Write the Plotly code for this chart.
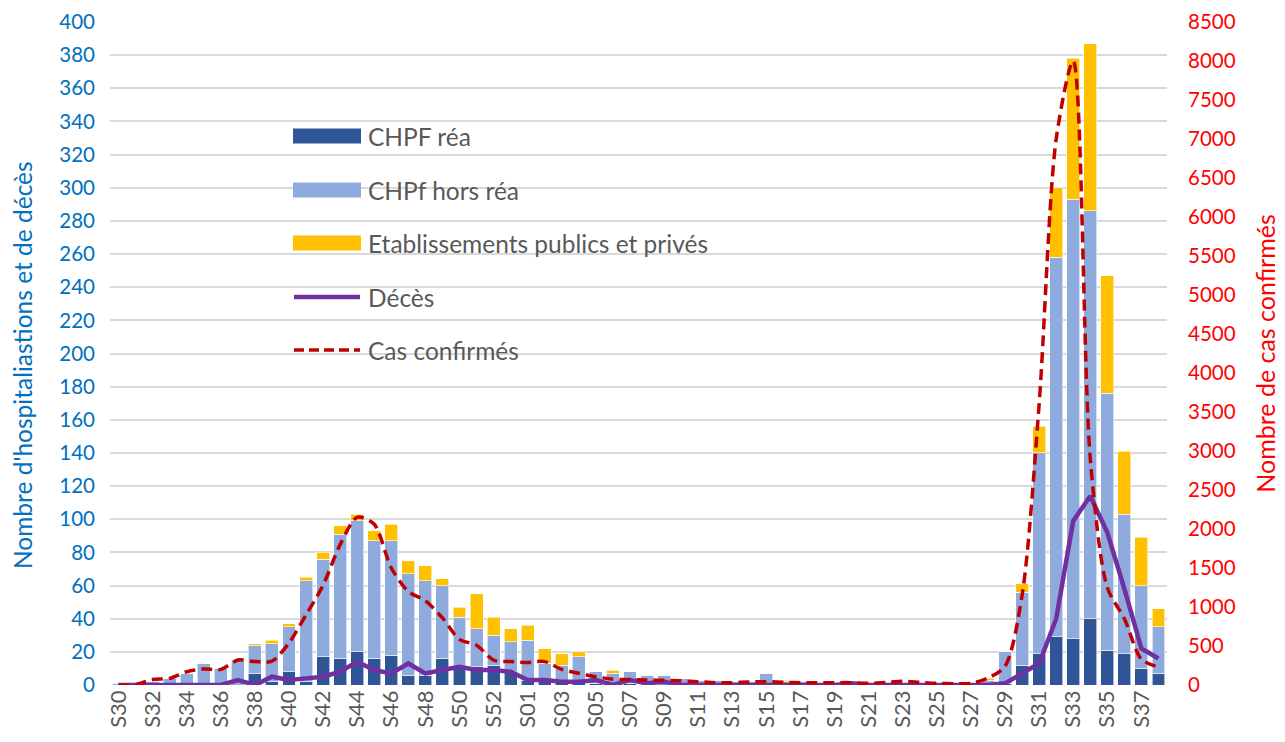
import plotly.graph_objects as go

# weeks S30-2020 .. S38-2021 (2020 has a week 53)
week_labels = [f"S{w}" for w in range(30, 54)] + [f"S{w:02d}" for w in range(1, 39)]
week_years = [2020] * 24 + [2021] * 38
weeks = [f"{y}-{s}" for y, s in zip(week_years, week_labels)]

chpf_rea = [
    0, 0, 0, 0, 0, 0, 0, 0, 7, 2, 8, 2, 17, 16, 20, 16, 18, 6, 6, 16, 10, 11, 12, 8,
    3, 2, 2, 2, 1, 1, 1, 0, 0, 0, 0, 0, 0, 0, 0, 0, 0, 0, 0, 0, 0, 0, 0, 0, 0, 0,
    0, 0, 1, 12, 19, 29, 28, 40, 21, 19, 10, 7,
]
chpf_hors_rea = [
    1, 1, 2, 4, 7, 13, 10, 15, 17, 23, 27, 61, 59, 75, 79, 71, 69, 61, 57, 44, 31, 23, 18, 18,
    24, 11, 10, 15, 7, 6, 7, 6, 6, 4, 3, 3, 2, 2, 7, 2, 2, 1, 1, 1, 1, 1, 1, 1, 1, 1,
    1, 3, 19, 44, 121, 229, 265, 246, 155, 84, 50, 28,
]
etab_pub_priv = [
    0, 0, 0, 0, 0, 0, 0, 0, 1, 2, 2, 2, 4, 5, 4, 6, 10, 8, 9, 4, 6, 21, 11, 8,
    9, 9, 7, 3, 0, 2, 0, 0, 0, 0, 0, 0, 0, 0, 0, 1, 0, 0, 0, 0, 0, 0, 0, 0, 0, 0,
    0, 1, 0, 5, 16, 42, 85, 101, 71, 38, 29, 11,
]
deces = [
    0, 0, 0, 0, 0, 0, 0, 3, 0, 5, 3, 4, 5, 8, 14, 9, 7, 13, 7, 9, 11, 9, 9, 8,
    3, 3, 2, 2, 3, 0, 3, 1, 2, 0, 0, 0, 0, 0, 0, 0, 0, 0, 0, 1, 0, 0, 0, 0, 0, 0,
    0, 0, 1, 7, 13, 40, 99, 114, 92, 58, 22, 16,
]
cas_confirmes = [
    0, 5, 70, 85, 170, 205, 200, 320, 300, 305, 540, 900, 1280, 1800, 2150, 2060, 1500, 1200,
    1080, 860, 585, 510, 320, 300, 290, 300, 200, 150, 105, 75, 70, 65, 60, 55, 43, 30,
    30, 38, 43, 34, 30, 30, 30, 30, 21, 34, 47, 34, 21, 17, 20, 90, 240, 1150, 3600, 7000,
    8000, 2900, 1250, 850, 330, 230,
]

FONT = "Lato"
W, H = 1285, 742
L, R, T, B = 110, 118, 22, 57

fig = go.Figure()
bar_line = dict(color="white", width=0.6)
fig.add_trace(go.Bar(x=weeks, y=chpf_rea, name="CHPF réa",
                     marker=dict(color="#2F5597", line=bar_line)))
fig.add_trace(go.Bar(x=weeks, y=chpf_hors_rea, name="CHPf hors réa",
                     marker=dict(color="#8FAADC", line=bar_line)))
fig.add_trace(go.Bar(x=weeks, y=etab_pub_priv, name="Etablissements publics et privés",
                     marker=dict(color="#FFC000", line=bar_line)))
fig.add_trace(go.Scatter(x=weeks, y=deces, name="Décès", mode="lines",
                         line=dict(color="#7030A0", width=4.5)))
fig.add_trace(go.Scatter(x=weeks, y=cas_confirmes, name="Cas confirmés", mode="lines",
                         yaxis="y2",
                         line=dict(color="#C00000", width=3.5, dash="11px,6px",
                                   shape="spline", smoothing=0.8)))

fig.update_layout(
    width=W,
    height=H,
    margin=dict(l=L, r=R, t=T, b=B, autoexpand=False),
    paper_bgcolor="white",
    plot_bgcolor="white",
    barmode="stack",
    bargap=0.24,
    showlegend=False,
    font=dict(family=FONT, size=20, color="#595959"),
    xaxis=dict(
        type="category",
        categoryorder="array",
        categoryarray=weeks,
        tickmode="array",
        tickvals=weeks[::2],
        ticktext=week_labels[::2],
        tickangle=-90,
        tickfont=dict(size=22, color="#595959"),
        showgrid=False,
        showline=False,
        ticks="",
        range=[-0.5, len(weeks) - 0.5],
    ),
    yaxis=dict(
        range=[0, 400],
        dtick=20,
        showgrid=True,
        gridcolor="#D9D9D9",
        gridwidth=1.5,
        zeroline=False,
        tickfont=dict(size=20.5, color="#0070C0"),
        ticklabelstandoff=14,
    ),
    yaxis2=dict(
        overlaying="y",
        side="right",
        range=[0, 8500],
        dtick=500,
        showgrid=False,
        zeroline=False,
        tickfont=dict(size=20.5, color="#FF0000"),
        ticklabelstandoff=20,
        title=dict(text="Nombre de cas confirmés",
                   font=dict(size=25, color="#FF0000"), standoff=22),
    ),
)


def px_x(px):
    return (px - L) / (W - L - R)


def px_y(py):
    return (H - B - py) / (H - T - B)


# left axis title placed further out than plotly's standoff allows
fig.add_annotation(text="Nombre d'hospitaliastions et de décès", textangle=-90,
                   xref="paper", yref="paper", x=px_x(23), y=px_y(365),
                   xanchor="center", yanchor="middle", showarrow=False,
                   font=dict(family=FONT, size=24.5, color="#0070C0"))

# custom legend (wide swatches like the original)
legend_items = [
    ("CHPF réa", "rect", "#2F5597", 136),
    ("CHPf hors réa", "rect", "#8FAADC", 190),
    ("Etablissements publics et privés", "rect", "#FFC000", 243),
    ("Décès", "solid", "#7030A0", 297),
    ("Cas confirmés", "dash", "#C00000", 350),
]
for label, kind, color, cy in legend_items:
    if kind == "rect":
        fig.add_shape(type="rect", xref="paper", yref="paper",
                      x0=px_x(293), x1=px_x(361), y0=px_y(cy + 7.5), y1=px_y(cy - 7.5),
                      fillcolor=color, line=dict(width=0))
    else:
        fig.add_shape(type="line", xref="paper", yref="paper",
                      x0=px_x(294), x1=px_x(360), y0=px_y(cy), y1=px_y(cy),
                      line=dict(color=color, width=4.5 if kind == "solid" else 3.5,
                                dash="solid" if kind == "solid" else "10px,5px"))
    fig.add_annotation(text=label, xref="paper", yref="paper",
                       x=px_x(366), y=px_y(cy), xanchor="left", yanchor="middle",
                       showarrow=False, font=dict(family=FONT, size=24.5, color="#595959"))

fig.write_html("out.html", config={"displayModeBar": False},
               post_script="document.body.style.margin='0';")
